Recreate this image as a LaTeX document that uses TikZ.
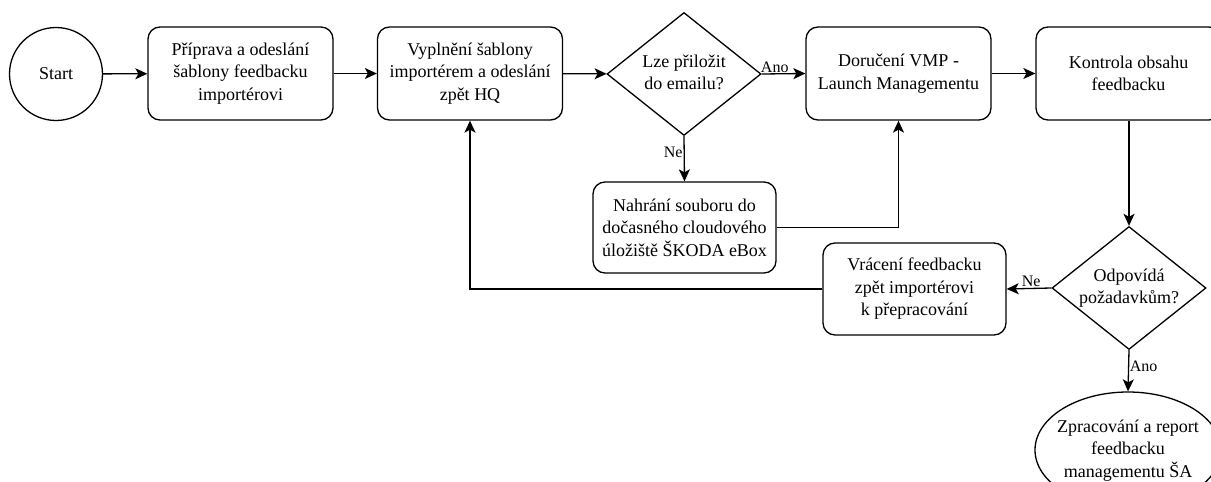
\documentclass[tikz,border=0pt]{standalone}
\usepackage{fontspec}
\setmainfont{Liberation Serif}
\newfontfamily\diagramfont{Liberation Serif}
\usetikzlibrary{shapes.geometric,arrows.meta}

\begin{document}
\begin{tikzpicture}[x=1pt,y=-1pt,
  every node/.style={font=\diagramfont\fontsize{18}{22.5}\selectfont, text=black},
  proc/.style={draw, line width=1.3pt, rounded corners=12pt, align=center,
    minimum width=185pt, minimum height=93pt, inner sep=2pt},
  startnode/.style={draw, circle, line width=1.3pt, minimum size=93pt, inner sep=0pt},
  decision/.style={draw, diamond, line width=1.3pt, minimum width=154pt,
    minimum height=123pt, inner sep=0pt},
  endnode/.style={draw, ellipse, line width=1.3pt, minimum width=186pt,
    minimum height=116pt, inner sep=0pt},
  flow/.style={line width=1.3pt, -{Stealth[length=12pt,width=11pt,inset=3pt]}},
  edgelabel/.style={font=\diagramfont\fontsize{16}{19}\selectfont, inner sep=1pt}
]
\clip (0,0) rectangle (1211,482);

% process steps
\node[startnode] (start) at (56,74) {Start};
\node[proc] (prep) at (240.5,73.5) {Příprava a odeslání\\šablony feedbacku\\importérovi};
\node[proc] (fill) at (470,73.5) {Vyplnění šablony\\importérem a odeslání\\zpět HQ};
\node[decision] (attach) at (684,74)
  {\makebox[0pt]{\begin{tabular}{@{}c@{}}Lze přiložit\\do emailu?\end{tabular}}};
\node[proc] (deliver) at (898.5,73.5) {Doručení VMP -\\Launch Managementu};
\node[proc] (check) at (1128.5,73.5) {Kontrola obsahu\\feedbacku};
\node[proc, minimum width=183pt, minimum height=91pt] (ebox) at (684.5,227.5)
  {Nahrání souboru do\\dočasného cloudového\\úložiště ŠKODA eBox};
\node[proc, minimum width=183pt, minimum height=92pt] (back) at (914.5,289)
  {Vrácení feedbacku\\zpět importérovi\\k přepracování};
\node[decision] (meets) at (1129,288)
  {\makebox[0pt]{\begin{tabular}{@{}c@{}}Odpovídá\\požadavkům?\end{tabular}}};
\node[endnode] (report) at (1128,450)
  {\makebox[0pt]{\begin{tabular}{@{}c@{}}Zpracování a report\\feedbacku\\managementu ŠA\end{tabular}}};

% connectors
\draw[flow] (start) -- (prep);
\draw[flow] (prep) -- (fill);
\draw[flow] (fill) -- (attach);
\draw[flow] (attach.east) -- node[edgelabel, above, pos=0.3] {Ano} (deliver.west);
\draw[flow] (attach.south) -- node[edgelabel, left, pos=0.35] {Ne} (ebox.north);
\draw[flow] (ebox.east) -| (deliver.south);
\draw[flow] (deliver) -- (check);
\draw[flow] (check.south -| meets.north) -- (meets.north);
\draw[flow] (meets.west) -- node[edgelabel, above, pos=0.45] {Ne} (back.east);
\draw[flow] (meets.south) -- node[edgelabel, right, pos=0.4, inner sep=0.5pt] {Ano} (report.north);
\draw[flow] (back.west) -| (fill.south);
\end{tikzpicture}
\end{document}
